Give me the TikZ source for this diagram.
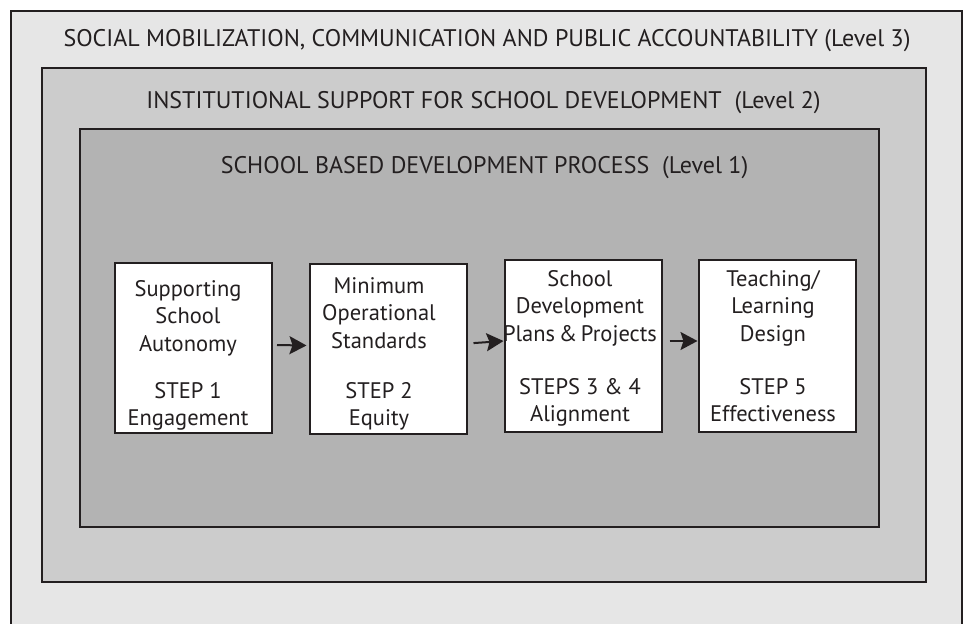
\documentclass[tikz,border=0pt]{standalone}
\usepackage{fontspec}
\setmainfont{PT Sans}
\usetikzlibrary{arrows.meta}
\definecolor{lvlthree}{gray}{0.902}
\definecolor{lvltwo}{gray}{0.8}
\definecolor{lvlone}{gray}{0.702}
\definecolor{edge}{HTML}{231F20}
\begin{document}
\begin{tikzpicture}[x=1pt,y=-1pt,
 frame/.style={draw=edge, line width=2pt},
 title/.style={font=\fontsize{24}{28}\selectfont, anchor=base, inner sep=0pt, text=edge},
 stepbox/.style={draw=edge, fill=white, line width=2pt, minimum width=157pt, minimum height=170pt, inner sep=0pt},
 boxtext/.style={font=\fontsize{22.5}{27.5}\selectfont, align=center, anchor=north, inner sep=0pt, text=edge},
 arr/.style={draw=edge, line width=2pt, -{Stealth[length=17pt,width=18pt,inset=3pt]}}
]
\useasboundingbox (0,0) rectangle (965,623);
\begin{scope}
\clip (0,0) rectangle (965,623);
\draw[frame, fill=lvlthree] (11,11) rectangle (962,660);
\end{scope}
\draw[frame, fill=lvltwo] (42,68) rectangle (926,582);
\draw[frame, fill=lvlone] (80,129) rectangle (879,527);

\node[title] (l3) at (487,47) {SOCIAL MOBILIZATION, COMMUNICATION AND PUBLIC ACCOUNTABILITY (Level 3)};
\node[title] (l2) at (483.5,109) {INSTITUTIONAL SUPPORT FOR SCHOOL DEVELOPMENT\ \ (Level 2)};
\node[title] (l1) at (484.5,173) {SCHOOL BASED DEVELOPMENT PROCESS\ \ (Level 1)};

\node[stepbox] (b1) at (193.5,348) {};
\node[stepbox] (b2) at (388,348.5) {};
\node[stepbox, minimum height=172pt] (b3) at (583,346) {};
\node[stepbox, minimum height=172pt] (b4) at (777,346) {};

\node[boxtext] (t1) at (188,280) {Supporting\\School\\Autonomy\\[19.5pt]STEP 1\\Engagement};
\node[boxtext] (t2) at (379,277) {Minimum\\Operational\\Standards\\[22.5pt]STEP 2\\Equity};
\node[boxtext] (t3) at (580,270) {School\\Development\\Plans\,\&\,Projects\\[25.5pt]STEPS 3 \& 4\\Alignment};
\node[boxtext] (t4) at (773,270) {Teaching/\\Learning\\Design\\[25.5pt]STEP 5\\Effectiveness};

\draw[arr, shorten <=4pt, shorten >=2pt] ([yshift=3pt]b1.east) -- ([yshift=3pt]b2.west);
\draw[arr, shorten <=6pt] ([yshift=5pt]b2.east) -- ([yshift=5pt]b3.west);
\draw[arr, shorten <=7pt] ([yshift=5pt]b3.east) -- ([yshift=5pt]b4.west);
\end{tikzpicture}
\end{document}
